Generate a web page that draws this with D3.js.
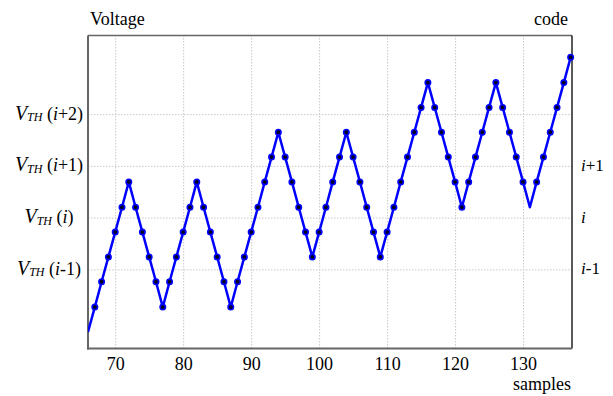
<!DOCTYPE html>
<html>
<head>
<meta charset="utf-8">
<script src="https://cdn.jsdelivr.net/npm/d3@7"></script>
<style>
body { margin: 0; background: #fff; }
text { font-family: "Liberation Serif", "Times New Roman", serif; fill: #000; }
</style>
</head>
<body>
<svg width="613" height="396"></svg>
<script>
// samples on the x axis
var samples = [66, 67, 68, 69, 70, 71, 72, 73, 74, 75, 76, 77, 78, 79, 80, 81, 82, 83, 84, 85,
    86, 87, 88, 89, 90, 91, 92, 93, 94, 95, 96, 97, 98, 99, 100, 101, 102, 103, 104, 105,
    106, 107, 108, 109, 110, 111, 112, 113, 114, 115, 116, 117, 118, 119, 120, 121, 122, 123, 124, 125,
    126, 127, 128, 129, 130, 131, 132, 133, 134, 135, 136, 137];
// voltage in LSB units, V_TH(i) = 0
var voltage = [-2.21, -1.73, -1.24, -0.76, -0.28, 0.20, 0.69, 0.20, -0.28, -0.76, -1.24, -1.73, -1.24, -0.76, -0.28, 0.20, 0.69, 0.20, -0.28, -0.76,
    -1.24, -1.73, -1.24, -0.76, -0.28, 0.20, 0.69, 1.17, 1.65, 1.17, 0.69, 0.20, -0.28, -0.76, -0.28, 0.20, 0.69, 1.17, 1.65, 1.17,
    0.69, 0.20, -0.28, -0.76, -0.28, 0.20, 0.69, 1.17, 1.65, 2.13, 2.61, 2.13, 1.65, 1.17, 0.69, 0.20, 0.69, 1.17, 1.65, 2.13,
    2.61, 2.13, 1.65, 1.17, 0.69, 0.20, 0.69, 1.17, 1.65, 2.13, 2.61, 3.10];
// samples drawn without a dot
var noMarker = [66, 131];

var xTicks = [70, 80, 90, 100, 110, 120, 130];
var levels = [-1, 0, 1, 2];
var leftNames = ["i-1", "i", "i+1", "i+2"];
var codeLevels = [-1, 0, 1];
var codeNames = ["i-1", "i", "i+1"];

var svg = d3.select("svg");
var pL = 88, pR = 572, pT = 35.5, pB = 348.5;

var x = d3.scaleLinear().domain([66, 137.2]).range([pL, pR]);
var y = d3.scaleLinear().domain([-2.53, 3.52]).range([pB, pT]);

// grid
svg.append("g")
    .attr("transform", "translate(0," + pB + ")")
    .call(d3.axisBottom(x).tickValues(xTicks).tickSize(-(pB - pT)).tickFormat(""))
    .call(function(g){ g.select(".domain").remove(); })
    .selectAll("line")
    .attr("stroke", "#c8c8c8")
    .attr("stroke-dasharray", "1.5,1.5");

svg.append("g")
    .attr("transform", "translate(" + pL + ",0)")
    .call(d3.axisLeft(y).tickValues(levels).tickSize(-(pR - pL)).tickFormat(""))
    .call(function(g){ g.select(".domain").remove(); })
    .selectAll("line")
    .attr("stroke", "#c8c8c8")
    .attr("stroke-dasharray", "1.5,1.5");

// frame
svg.append("line").attr("x1", pL).attr("x2", pR).attr("y1", pT).attr("y2", pT)
    .attr("stroke", "#666").attr("stroke-width", 1.3);
svg.append("line").attr("x1", pR).attr("x2", pR).attr("y1", pT).attr("y2", pB)
    .attr("stroke", "#000").attr("stroke-width", 1.3);
svg.append("line").attr("x1", pL).attr("x2", pL).attr("y1", pT).attr("y2", pB + 1)
    .attr("stroke", "#666").attr("stroke-width", 2);
svg.append("line").attr("x1", pL - 1).attr("x2", pR).attr("y1", pB).attr("y2", pB)
    .attr("stroke", "#666").attr("stroke-width", 2);

// x tick labels
var xa = svg.append("g")
    .attr("transform", "translate(0," + pB + ")")
    .call(d3.axisBottom(x).tickValues(xTicks).tickSize(0).tickPadding(9));
xa.select(".domain").remove();
xa.selectAll("text")
    .attr("font-family", "Liberation Serif, serif")
    .attr("font-size", 18)
    .attr("fill", "#000");

// left labels V_TH(..)
levels.forEach(function(v, i){
    var t = svg.append("text")
        .attr("x", 49)
        .attr("y", y(v) + 5.5)
        .attr("text-anchor", "middle")
        .attr("font-size", 18);
    t.append("tspan").attr("font-style", "italic").attr("font-size", 20).text("V");
    t.append("tspan").attr("font-style", "italic").attr("font-size", 12).attr("dy", 1.5).text("TH");
    t.append("tspan").attr("dy", -1.5).text(" (");
    var n = leftNames[i];
    t.append("tspan").attr("font-style", "italic").text("i");
    t.append("tspan").text(n.slice(1) + ")");
});

// right labels (code)
codeLevels.forEach(function(v, i){
    var t = svg.append("text")
        .attr("x", 581)
        .attr("y", y(v) + 5)
        .attr("font-size", 17);
    var n = codeNames[i];
    t.append("tspan").attr("font-style", "italic").text("i");
    t.append("tspan").text(n.slice(1));
});

// axis titles
svg.append("text").attr("x", 90).attr("y", 25).attr("font-size", 18).text("Voltage");
svg.append("text").attr("x", 568).attr("y", 25).attr("font-size", 18).attr("text-anchor", "end").text("code");
svg.append("text").attr("x", 571).attr("y", 390).attr("font-size", 18).attr("text-anchor", "end").text("samples");

// data
svg.append("clipPath").attr("id", "plot")
    .append("rect").attr("x", pL).attr("y", pT).attr("width", pR - pL).attr("height", pB - pT);

var line = d3.line()
    .x(function(d, i){ return x(samples[i]); })
    .y(function(d){ return y(d); });

svg.append("path")
    .datum(voltage)
    .attr("clip-path", "url(#plot)")
    .attr("d", line)
    .attr("fill", "none")
    .attr("stroke", "#0000ff")
    .attr("stroke-width", 2.5)
    .attr("stroke-linejoin", "round");

var pts = samples.map(function(s, i){ return {s: s, v: voltage[i]}; })
    .filter(function(d){ return noMarker.indexOf(d.s) < 0; });

svg.append("g")
    .selectAll("circle")
    .data(pts)
    .enter()
    .append("circle")
    .attr("cx", function(d){ return x(d.s); })
    .attr("cy", function(d){ return y(d.v); })
    .attr("r", 2.7)
    .attr("fill", "#000020")
    .attr("stroke", "#0000ff")
    .attr("stroke-width", 1.6);
</script>
</body>
</html>
